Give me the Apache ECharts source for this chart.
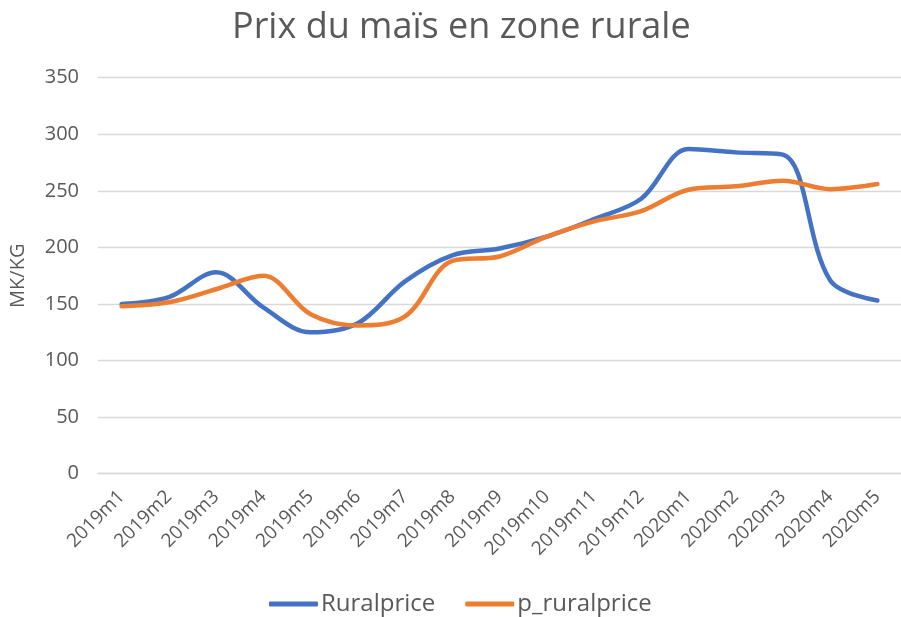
<!DOCTYPE html>
<html>
<head>
<meta charset="utf-8">
<script src="https://cdn.jsdelivr.net/npm/echarts@6/dist/echarts.min.js"></script>
<style>
html,body{margin:0;padding:0;background:#fff;}
#chart{width:901px;height:617px;}
</style>
</head>
<body>
<div id="chart"></div>
<script>
const categories = ['2019m1','2019m2','2019m3','2019m4','2019m5','2019m6','2019m7','2019m8','2019m9','2019m10','2019m11','2019m12','2020m1','2020m2','2020m3','2020m4','2020m5'];
const ruralprice = [150, 156, 178, 147, 125, 133, 170, 193, 199, 209.5, 225, 243, 287, 284, 282, 171, 153];
const pRuralprice = [148, 151.5, 163, 175, 141, 131, 139, 188, 192, 209.5, 223, 232, 251, 254, 259, 251.5, 256];
const yTicks = { min: 0, max: 350, interval: 50 };

const txt = '#595959';
const font = 'Open Sans';
const chart = echarts.init(document.getElementById('chart'), null, { renderer: 'canvas' });
chart.setOption({
  animation: false,
  backgroundColor: '#ffffff',
  textStyle: { fontFamily: font },
  title: {
    text: 'Prix du maïs en zone rurale',
    left: 227,
    top: 5,
    textStyle: { fontFamily: font, fontSize: 36, fontWeight: 'normal', color: txt }
  },
  grid: { left: 96, right: -15, top: 77.7, bottom: 143.3, containLabel: false },
  legend: {
    left: 264,
    top: 587,
    itemWidth: 49,
    itemHeight: 5,
    itemGap: 30,
    icon: 'roundRect',
    textStyle: { fontFamily: font, fontSize: 24, color: txt, padding: [0, 0, 0, -2] },
    data: ['Ruralprice', 'p_ruralprice']
  },
  xAxis: {
    type: 'category',
    data: categories,
    boundaryGap: true,
    axisLine: { show: true, lineStyle: { color: '#d9d9d9', width: 1.3 } },
    axisTick: { show: false },
    axisLabel: { rotate: 45, fontSize: 19, color: txt, margin: 20, interval: 0, fontFamily: font }
  },
  yAxis: {
    type: 'value',
    min: yTicks.min,
    max: yTicks.max,
    interval: yTicks.interval,
    name: 'MK/KG',
    nameLocation: 'middle',
    nameRotate: 90,
    nameGap: 70,
    nameTextStyle: { fontSize: 20, color: txt, fontFamily: font },
    axisLine: { show: false },
    axisTick: { show: false },
    axisLabel: { fontSize: 20, color: txt, margin: 19, fontFamily: font },
    splitLine: { lineStyle: { color: '#d9d9d9', width: 1.3 } }
  },
  series: [
    {
      name: 'Ruralprice',
      type: 'line',
      data: ruralprice,
      smooth: 0.35,
      symbol: 'none',
      lineStyle: { color: '#4472C4', width: 4.5, cap: 'round', join: 'round' },
      itemStyle: { color: '#4472C4' }
    },
    {
      name: 'p_ruralprice',
      type: 'line',
      data: pRuralprice,
      smooth: 0.35,
      symbol: 'none',
      lineStyle: { color: '#ED7D31', width: 4.5, cap: 'round', join: 'round' },
      itemStyle: { color: '#ED7D31' }
    }
  ]
});
</script>
</body>
</html>
